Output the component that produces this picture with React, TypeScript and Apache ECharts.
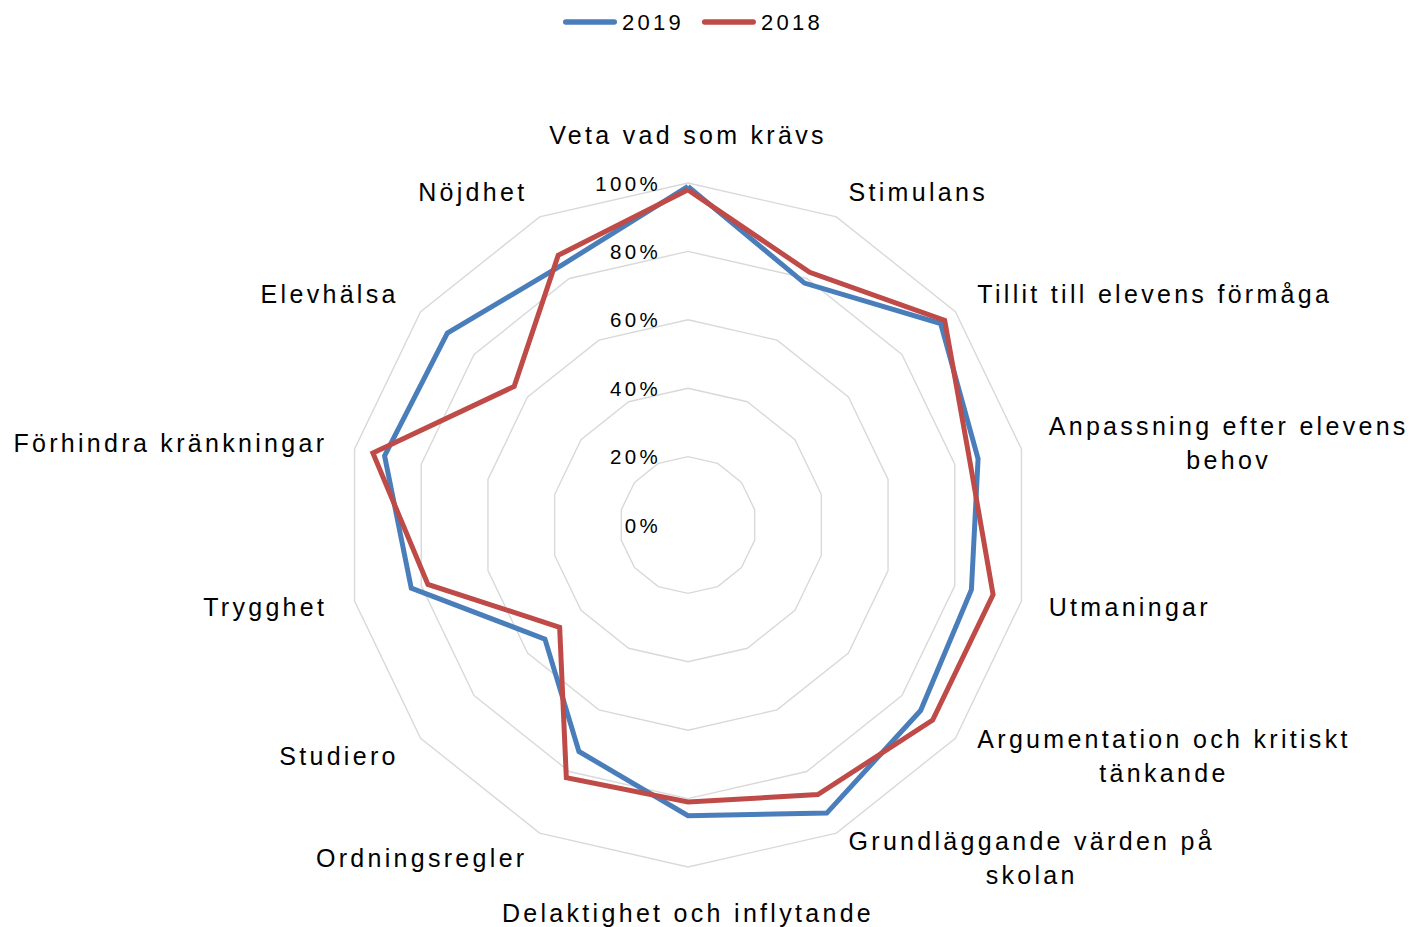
import React, { useEffect, useRef } from 'react';
import * as echarts from 'echarts';

const categories = [
  'Veta vad som krävs',
  'Stimulans',
  'Tillit till elevens förmåga',
  'Anpassning efter elevens\nbehov',
  'Utmaningar',
  'Argumentation och kritiskt\ntänkande',
  'Grundläggande värden på\nskolan',
  'Delaktighet och inflytande',
  'Ordningsregler',
  'Studiero',
  'Trygghet',
  'Förhindra kränkningar',
  'Elevhälsa',
  'Nöjdhet',
];
const values2019 = [99, 78.5, 94.5, 87, 85, 87, 93.5, 85, 73.5, 53.5, 83, 91, 90, 84.5];
const values2018 = [98, 82, 96, 84.5, 91.5, 91.5, 87.5, 81, 82, 48, 78, 94.5, 65, 87.5];
const seriesNames = ['2019', '2018'];
const seriesColors = ['#4A7EBB', '#BE4B48'];
const tickLabels = ['0%', '20%', '40%', '60%', '80%', '100%'];

const FONT = 'Liberation Sans';
const LS = 3.3; // letter spacing (px)

export default function App() {
  const ref = useRef<HTMLDivElement>(null);
  useEffect(() => {
    if (!ref.current) return;
    const chart = echarts.init(ref.current, undefined, { renderer: 'svg' });
    const n = categories.length;
    // ECharts radar runs counterclockwise; reorder so the picture runs clockwise
    const order = [0, ...Array.from({ length: n - 1 }, (_, k) => n - 1 - k)];
    const reorder = (arr: any[]) => order.map((i) => arr[i]);

    const rich: any = {
      top: { align: 'center', fontSize: 25, fontFamily: FONT, color: '#000', padding: [0, 0, 7, 0] },
      bot: { align: 'center', fontSize: 25, fontFamily: FONT, color: '#000', padding: [1, 0, 0, 0] },
    };
    categories.forEach((c, i) => {
      if (c.includes('\n')) {
        const maxLen = Math.max(...c.split('\n').map((l) => l.length));
        rich['m' + i] = {
          align: 'center', fontSize: 25, fontFamily: FONT, color: '#000', lineHeight: 34,
          padding: [0, 0, 0, (LS * maxLen) / 2],
        };
      }
    });
    const nameFormatter = (name: string) => {
      const i = categories.indexOf(name);
      if (i === 0) return `{top|${name}}`;
      if (i === Math.floor(n / 2)) return `{bot|${name}}`;
      if (name.includes('\n')) return name.split('\n').map((l) => `{m${i}|${l}}`).join('\n');
      return name;
    };

    chart.setOption({
      animation: false,
      backgroundColor: '#fff',
      color: seriesColors,
      legend: {
        data: seriesNames,
        left: 563,
        top: 11,
        padding: 0,
        itemWidth: 54,
        itemHeight: 5.5,
        itemGap: 31,
        icon: 'path://M2.75,0H51.25A2.75,2.75,0,0,1,51.25,5.5H2.75A2.75,2.75,0,0,1,2.75,0Z',
        textStyle: { fontSize: 22, color: '#000', fontFamily: FONT },
      },
      radar: {
        center: [688, 525],
        radius: 342,
        startAngle: 90,
        shape: 'polygon',
        splitNumber: 5,
        nameGap: 28,
        indicator: order.map((i, k) => ({
          name: categories[i],
          min: 0,
          max: 100,
          ...(k === 0 ? { axisLabel: { show: true } } : {}),
        })),
        axisName: {
          formatter: nameFormatter,
          color: '#000',
          fontSize: 25,
          fontFamily: FONT,
          lineHeight: 34,
          rich,
        },
        axisLine: { show: false },
        axisTick: { show: false },
        axisLabel: {
          show: false,
          align: 'right',
          margin: 27,
          fontSize: 20.5,
          color: '#000',
          fontFamily: FONT,
          formatter: (v: number) => tickLabels[Math.round(v / 20)] ?? '',
        },
        splitLine: { lineStyle: { color: '#d9d9d9', width: 1.4 } },
        splitArea: { show: false },
      },
      series: seriesNames.map((nm, s) => ({
        type: 'radar',
        name: nm,
        symbol: 'none',
        lineStyle: { width: 5, color: seriesColors[s], join: 'miter' },
        itemStyle: { color: seriesColors[s] },
        data: [{ name: nm, value: reorder(s === 0 ? values2019 : values2018) }],
      })),
    });
    return () => chart.dispose();
  }, []);
  return (
    <>
      <style>{`#chart-root text { letter-spacing: ${LS}px; }`}</style>
      <div
        id="chart-root"
        ref={ref}
        style={{ position: 'absolute', left: 0, top: 0, width: 1412, height: 927, background: '#fff' }}
      />
    </>
  );
}
